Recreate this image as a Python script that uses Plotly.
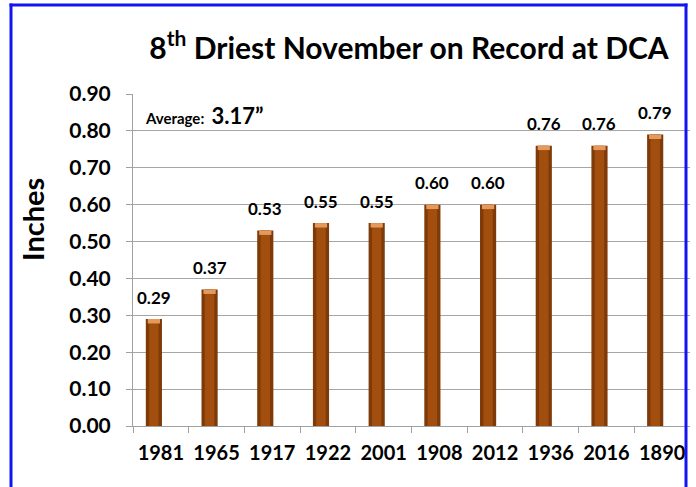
import plotly.graph_objects as go

years = ["1981", "1965", "1917", "1922", "2001", "1908", "2012", "1936", "2016", "1890"]
precip = [0.29, 0.37, 0.53, 0.55, 0.55, 0.60, 0.60, 0.76, 0.76, 0.79]
y_ticks = [0.0, 0.1, 0.2, 0.3, 0.4, 0.5, 0.6, 0.7, 0.8, 0.9]
average_text = "3.17”"
title_text = "8<sup>th</sup> Driest November on Record at DCA"
y_title = "Inches"

FONT = "Lato"
W, H = 696, 487
ML, MR, MT, MB = 133, 6, 94, 61
PW = W - ML - MR
PH = H - MT - MB


def px_x(px):
    return (px - ML) / PW


def px_y(py):
    return (H - MB - py) / PH


idx = list(range(len(years)))

fig = go.Figure()
# cylinder-like bar: dark outer, lighter inner, light cap
fig.add_trace(go.Bar(x=idx, y=precip, width=0.29, offset=-0.27,
                     marker=dict(color="#7E3A08", line=dict(width=0)),
                     hoverinfo="skip", showlegend=False))
fig.add_trace(go.Bar(x=idx, y=precip, width=0.17, offset=-0.21,
                     marker=dict(color="#A24E0E", line=dict(width=0)),
                     hoverinfo="skip", showlegend=False))
fig.add_trace(go.Bar(x=idx, y=[0.012] * len(precip), base=[v - 0.012 for v in precip],
                     width=0.22, offset=-0.235,
                     marker=dict(color="#E39A5C", line=dict(width=0)),
                     hoverinfo="skip", showlegend=False))

annotations = []
for i, v in zip(idx, precip):
    annotations.append(dict(x=i, y=v, xref="x", yref="y", text=f"<b>{v:.2f}</b>", showarrow=False,
                            xshift=-7, yshift=22, font=dict(family=FONT, size=17, color="black")))
annotations.append(dict(xref="paper", yref="paper", x=px_x(143), y=px_y(115),
                        xanchor="left", yanchor="middle", showarrow=False,
                        text=f"<b>Average:  <span style='font-size:22px'>{average_text}</span></b>",
                        font=dict(family=FONT, size=15, color="black")))
annotations.append(dict(xref="paper", yref="paper", x=px_x(32), y=px_y(220),
                        xanchor="center", yanchor="middle", showarrow=False, textangle=-90,
                        text=f"<b>{y_title}</b>",
                        font=dict(family=FONT, size=29, color="black")))

BLUE = "#1414F0"
shapes = [
    dict(type="rect", xref="paper", yref="paper", x0=px_x(9.5), x1=px_x(12.5), y0=px_y(3.5), y1=px_y(495),
         fillcolor=BLUE, line=dict(width=0), layer="above"),
    dict(type="rect", xref="paper", yref="paper", x0=px_x(684.5), x1=px_x(687.5), y0=px_y(3.5), y1=px_y(495),
         fillcolor=BLUE, line=dict(width=0), layer="above"),
    dict(type="rect", xref="paper", yref="paper", x0=px_x(9.5), x1=px_x(687.5), y0=px_y(3.5), y1=px_y(6.5),
         fillcolor=BLUE, line=dict(width=0), layer="above"),
]

fig.update_layout(
    width=W, height=H,
    margin=dict(l=ML, r=MR, t=MT, b=MB),
    paper_bgcolor="white", plot_bgcolor="white",
    barmode="overlay",
    title=dict(text=f"<b>{title_text}</b>", x=409 / W, xanchor="center",
               y=1 - 48 / H, yanchor="middle",
               font=dict(family=FONT, size=30, color="black")),
    annotations=annotations,
    shapes=shapes,
    xaxis=dict(tickmode="array", tickvals=idx, ticktext=years,
               range=[-0.5, len(years) - 0.5],
               showline=True, linecolor="#A0A0A0", linewidth=1,
               ticks="", showgrid=False, zeroline=False, ticklabelstandoff=9,
               tickfont=dict(family=FONT, size=20, color="black", weight="bold"),
               minor=dict(tickvals=[i - 0.5 for i in idx],
                          ticks="outside", ticklen=6, tickcolor="#A0A0A0", showgrid=False)),
    yaxis=dict(range=[0, 0.9], tickvals=y_ticks, ticktext=[f"{t:.2f}" for t in y_ticks],
               showline=True, linecolor="#A0A0A0", linewidth=1,
               ticks="outside", ticklen=6, tickcolor="#A0A0A0",
               ticklabelstandoff=11, zeroline=False,
               showgrid=True, gridcolor="#A6A6A6", gridwidth=1,
               tickfont=dict(family=FONT, size=21, color="black", weight="bold")),
)

fig.write_html("out.html", config={"displayModeBar": False},
               post_script="document.body.style.margin='0';"
                           "document.body.style.overflow='hidden';"
                           "document.documentElement.style.overflow='hidden';")
